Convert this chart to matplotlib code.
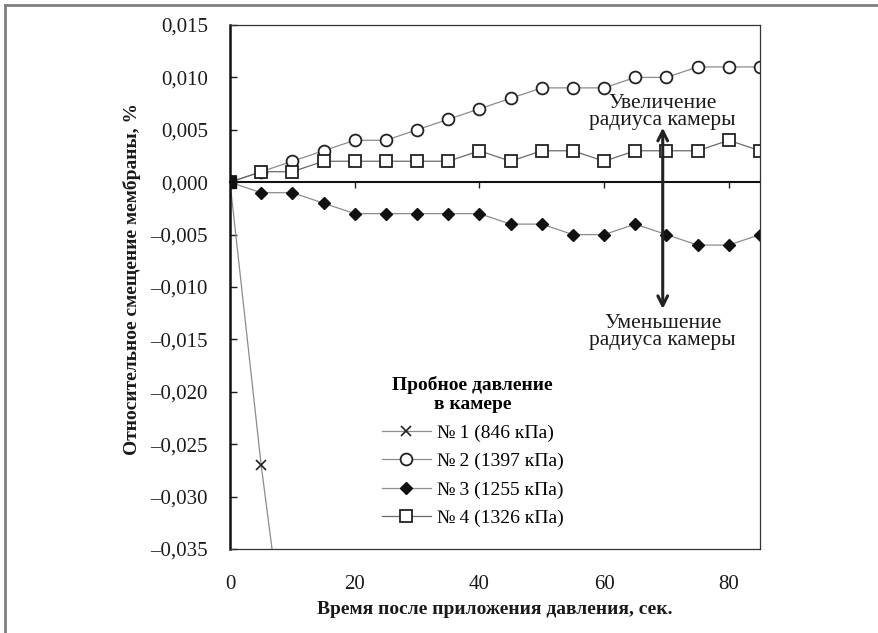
import matplotlib
matplotlib.use("Agg")
import matplotlib.pyplot as plt
from matplotlib.lines import Line2D
from matplotlib.ticker import FuncFormatter

plt.rcParams['font.family'] = ['Liberation Serif', 'DejaVu Serif']

# time after pressure applied, s
t = [0, 5, 10, 15, 20, 25, 30, 35, 40, 45, 50, 55, 60, 65, 70, 75, 80, 85]
t1 = [0, 5, 10]

# relative membrane displacement, %
s1 = [0.0, -0.027, -0.050]
s2 = [0.0, 0.001, 0.002, 0.003, 0.004, 0.004, 0.005, 0.006, 0.007,
      0.008, 0.009, 0.009, 0.009, 0.010, 0.010, 0.011, 0.011, 0.011]
s3 = [0.0, -0.001, -0.001, -0.002, -0.003, -0.003, -0.003, -0.003, -0.003,
      -0.004, -0.004, -0.005, -0.005, -0.004, -0.005, -0.006, -0.006, -0.005]
s4 = [0.0, 0.001, 0.001, 0.002, 0.002, 0.002, 0.002, 0.002, 0.003,
      0.002, 0.003, 0.003, 0.002, 0.003, 0.003, 0.003, 0.004, 0.003]

labels = ["№\u20091 (846 кПа)", "№\u20092 (1397 кПа)",
          "№\u20093 (1255 кПа)", "№\u20094 (1326 кПа)"]

y_ticks = [0.015, 0.010, 0.005, 0.0, -0.005, -0.010, -0.015,
           -0.020, -0.025, -0.030, -0.035]
x_ticks = [0, 20, 40, 60, 80]

fig = plt.figure(figsize=(8.79, 6.33), dpi=100)
ax = fig.add_axes([230 / 879, 84 / 633, 530 / 879, 524 / 633])

line_c = "#8c8c8c"
ax.plot(t1, s1, color=line_c, lw=0.9, marker="x", ms=7, mec="#222222",
        mew=1.2, label=labels[0])
ax.plot(t, s2, color=line_c, lw=0.9, marker="o", ms=8.5, mfc="white",
        mec="#222222", mew=1.3, label=labels[1])
ax.plot(t, s3, color=line_c, lw=0.9, marker="D", ms=6.5, mfc="#111111",
        mec="#111111", label=labels[2])
ax.plot(t, s4, color="#6a6a6a", lw=0.9, marker="s", ms=8.5, mfc="white",
        mec="#222222", mew=1.3, label=labels[3])
# common starting point, all markers stacked
ax.plot(t[:1], s4[:1], ls="none", marker="s", ms=9, mfc="#111111",
        mec="#111111", zorder=5)

ax.set_xlim(0, 85)
ax.set_ylim(-0.035, 0.015)
ax.set_yticks(y_ticks)
ax.yaxis.set_major_formatter(FuncFormatter(
    lambda v, p: ("%.3f" % v).replace(".", ",").replace("-", "\u2013")))
ax.set_xticks(x_ticks)
ax.tick_params(axis="x", length=0, labelsize=15, pad=19, colors="#1a1a1a")
ax.tick_params(axis="y", direction="in", length=5, width=1,
               labelsize=15, pad=16, colors="#1a1a1a")

for side in ["top", "right", "bottom"]:
    ax.spines[side].set_linewidth(0.9)
    ax.spines[side].set_color("#333333")
ax.spines["left"].set_linewidth(1.8)
ax.spines["left"].set_color("#111111")

# zero line with its own tick marks
zero = ax.secondary_xaxis(0.7)
zero.set_xticks(x_ticks[1:])
zero.tick_params(direction="in", length=4, width=1, labeltop=False,
                 labelbottom=False, color="#222222")
zero.spines["top"].set_linewidth(1.5)
zero.spines["top"].set_color("#111111")

ax.set_xlabel("Время после приложения давления, сек.", fontsize=14,
              fontweight="bold", labelpad=5, color="#1a1a1a")
ax.set_ylabel("Относительное смещение мембраны, %", fontsize=14,
              fontweight="bold", color="#1a1a1a")
ax.yaxis.set_label_coords(-0.168, 0.515)

leg = ax.legend(loc="upper left", bbox_to_anchor=(0.287, 0.33),
                frameon=False, fontsize=14, handlelength=2.5,
                handletextpad=0.3, labelspacing=0.56, borderpad=0,
                borderaxespad=0,
                title="Пробное давление\nв камере",
                title_fontproperties={"weight": "bold", "size": 14})
leg.get_title().set_multialignment("center")
leg.get_title().set_linespacing(1.15)

# direction arrow and captions
ax.annotate("", xy=(69.4, 0.0052), xytext=(69.4, -0.0121),
            arrowprops=dict(arrowstyle="<->,head_length=0.7,head_width=0.35",
                            lw=2.2, color="#222222", shrinkA=0, shrinkB=0))
ax.text(69.4, 0.0067, "Увеличение\nрадиуса камеры", ha="center", va="center",
        fontsize=15.5, linespacing=0.85, color="#1a1a1a")
ax.text(69.4, -0.0143, "Уменьшение\nрадиуса камеры", ha="center", va="center",
        fontsize=15.5, linespacing=0.8, color="#1a1a1a")

# gray frame on top and left edges
fig.add_artist(Line2D([5 / 879, 1], [1 - 4.5 / 633, 1 - 4.5 / 633],
                      transform=fig.transFigure, color="#808080", lw=2))
fig.add_artist(Line2D([5 / 879, 5 / 879], [0, 1 - 4.5 / 633],
                      transform=fig.transFigure, color="#808080", lw=2))

fig.savefig("out.png", dpi=100)
